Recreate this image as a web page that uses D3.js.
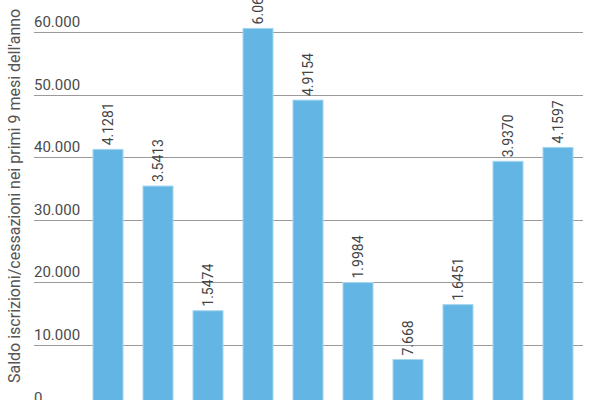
<!DOCTYPE html>
<html>
<head>
<meta charset="utf-8">
<script src="https://cdn.jsdelivr.net/npm/d3@7"></script>
<style>
  body { margin: 0; background: #fff; }
  svg { font-family: Roboto, "Noto Sans", sans-serif; }
</style>
</head>
<body>
<svg id="chart" width="600" height="400"></svg>
<script>
// data
const categories = ["A", "B", "C", "D", "E", "F", "G", "H", "I", "J"];
const values = [41281, 35413, 15474, 60620, 49154, 19984, 7668, 16451, 39370, 41597];
const valueLabels = ["4.1281", "3.5413", "1.5474", "6.0620", "4.9154", "1.9984", "7.668", "1.6451", "3.9370", "4.1597"];
const yTicks = [0, 10000, 20000, 30000, 40000, 50000, 60000];
const yTitle = "Saldo iscrizioni/cessazioni nei primi 9 mesi dell'anno";

const svg = d3.select("#chart");

const x = d3.scaleBand()
  .domain(categories)
  .range([83, 583])
  .paddingInner(0.4)
  .paddingOuter(0.2);

const y = d3.scaleLinear()
  .domain([0, 60000])
  .range([407.5, 32.3]);

const fmt = d3.formatLocale({ decimal: ",", thousands: ".", grouping: [3], currency: ["", "€"] }).format(",");

// gridlines
svg.append("g")
  .selectAll("line")
  .data(yTicks)
  .enter().append("line")
  .attr("x1", 34)
  .attr("x2", 583)
  .attr("y1", d => Math.round(y(d)) + 0.5)
  .attr("y2", d => Math.round(y(d)) + 0.5)
  .attr("stroke", "#9a9a9a")
  .attr("stroke-width", 1);

// tick labels sit above the lines
svg.append("g")
  .selectAll("text")
  .data(yTicks)
  .enter().append("text")
  .attr("x", 34)
  .attr("y", d => y(d) - 5)
  .attr("font-size", 15)
  .attr("fill", "#4a4a4a")
  .text(d => fmt(d));

// bars
svg.append("g")
  .selectAll("rect")
  .data(values)
  .enter().append("rect")
  .attr("x", (d, i) => x(categories[i]))
  .attr("width", x.bandwidth())
  .attr("y", d => y(d))
  .attr("height", d => y(0) - y(d))
  .attr("fill", "#63b5e3")
  .attr("stroke", "#a6d6f0")
  .attr("stroke-width", 1);

// value labels, rotated
svg.append("g")
  .selectAll("text")
  .data(values)
  .enter().append("text")
  .attr("transform", (d, i) => `translate(${x(categories[i]) + x.bandwidth() / 2},${y(d) - 4}) rotate(-90)`)
  .attr("dy", "0.35em")
  .attr("font-size", 14)
  .attr("fill", "#444")
  .text((d, i) => valueLabels[i]);

// y axis title
svg.append("text")
  .attr("transform", "translate(14,383) rotate(-90)")
  .attr("dy", "0.35em")
  .attr("font-size", 16)
  .attr("fill", "#555")
  .text(yTitle);
</script>
</body>
</html>
